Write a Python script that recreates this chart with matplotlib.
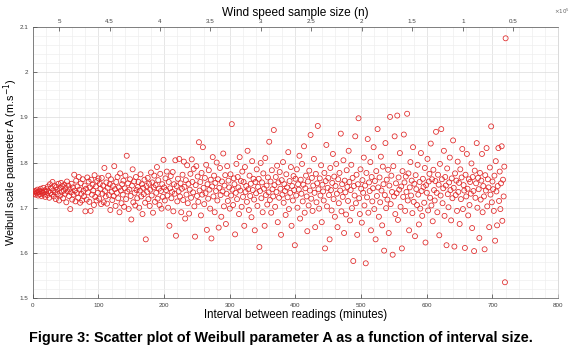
import numpy as np
import matplotlib
matplotlib.use("Agg")
import matplotlib.pyplot as plt
from matplotlib.ticker import MultipleLocator

plt.rcParams['font.family'] = ['Liberation Sans', 'DejaVu Sans']

# intervalo entre leituras (minutos): 1..720
interval = np.arange(1, 721)

# parametro A de Weibull, em blocos de 100 minutos
a_001_100 = [
    1.734, 1.731, 1.737, 1.729, 1.736, 1.733, 1.740, 1.727, 1.735, 1.738,
    1.730, 1.742, 1.726, 1.736, 1.733, 1.744, 1.729, 1.738, 1.724, 1.735,
    1.741, 1.728, 1.747, 1.736, 1.722, 1.752, 1.733, 1.744, 1.729, 1.757,
    1.738, 1.725, 1.749, 1.734, 1.719, 1.746, 1.740, 1.730, 1.753, 1.716,
    1.743, 1.727, 1.755, 1.735, 1.748, 1.721, 1.738, 1.751, 1.731, 1.744,
    1.712, 1.758, 1.736, 1.749, 1.726, 1.741, 1.697, 1.734, 1.753, 1.718,
    1.745, 1.729, 1.773, 1.738, 1.714, 1.760, 1.733, 1.747, 1.722, 1.768,
    1.740, 1.711, 1.754, 1.731, 1.716, 1.763, 1.737, 1.725, 1.749, 1.692,
    1.742, 1.718, 1.767, 1.734, 1.758, 1.713, 1.745, 1.693, 1.762, 1.729,
    1.751, 1.738, 1.706, 1.772, 1.724, 1.747, 1.716, 1.759, 1.733, 1.765,
]
a_101_200 = [
    1.720, 1.753, 1.742, 1.708, 1.766, 1.731, 1.749, 1.712, 1.788, 1.737,
    1.725, 1.756, 1.709, 1.744, 1.771, 1.728, 1.752, 1.695, 1.763, 1.735,
    1.717, 1.748, 1.726, 1.792, 1.741, 1.704, 1.757, 1.733, 1.768, 1.721,
    1.745, 1.690, 1.776, 1.738, 1.710, 1.752, 1.729, 1.760, 1.702, 1.743,
    1.771, 1.719, 1.815, 1.736, 1.754, 1.697, 1.740, 1.763, 1.726, 1.674,
    1.749, 1.785, 1.712, 1.758, 1.733, 1.705, 1.768, 1.739, 1.721, 1.746,
    1.757, 1.700, 1.738, 1.774, 1.725, 1.752, 1.686, 1.744, 1.730, 1.762,
    1.711, 1.630, 1.748, 1.735, 1.766, 1.719, 1.753, 1.704, 1.740, 1.778,
    1.727, 1.756, 1.689, 1.745, 1.771, 1.713, 1.750, 1.733, 1.790, 1.720,
    1.761, 1.742, 1.706, 1.775, 1.737, 1.698, 1.752, 1.724, 1.806, 1.745,
]
a_201_300 = [
    1.716, 1.765, 1.739, 1.780, 1.727, 1.700, 1.757, 1.660, 1.743, 1.770,
    1.721, 1.735, 1.779, 1.692, 1.752, 1.731, 1.805, 1.638, 1.748, 1.714,
    1.764, 1.736, 1.808, 1.725, 1.754, 1.690, 1.742, 1.773, 1.717, 1.802,
    1.746, 1.676, 1.761, 1.729, 1.794, 1.710, 1.753, 1.687, 1.740, 1.775,
    1.722, 1.807, 1.757, 1.734, 1.786, 1.703, 1.636, 1.750, 1.792, 1.726,
    1.769, 1.713, 1.845, 1.738, 1.757, 1.683, 1.777, 1.729, 1.834, 1.744,
    1.708, 1.766, 1.732, 1.795, 1.651, 1.752, 1.720, 1.783, 1.740, 1.698,
    1.762, 1.632, 1.747, 1.812, 1.725, 1.771, 1.690, 1.755, 1.737, 1.800,
    1.716, 1.763, 1.656, 1.744, 1.788, 1.728, 1.680, 1.758, 1.736, 1.820,
    1.703, 1.749, 1.772, 1.664, 1.731, 1.792, 1.715, 1.760, 1.745, 1.698,
]
a_301_400 = [
    1.774, 1.727, 1.885, 1.740, 1.706, 1.765, 1.752, 1.641, 1.733, 1.797,
    1.719, 1.768, 1.745, 1.686, 1.812, 1.738, 1.759, 1.702, 1.780, 1.724,
    1.757, 1.660, 1.790, 1.735, 1.748, 1.713, 1.826, 1.741, 1.695, 1.771,
    1.726, 1.753, 1.679, 1.803, 1.739, 1.764, 1.718, 1.650, 1.757, 1.732,
    1.785, 1.704, 1.746, 1.764, 1.613, 1.737, 1.799, 1.721, 1.756, 1.690,
    1.776, 1.742, 1.660, 1.810, 1.728, 1.749, 1.707, 1.767, 1.734, 1.846,
    1.717, 1.758, 1.689, 1.783, 1.741, 1.725, 1.872, 1.750, 1.702, 1.768,
    1.735, 1.793, 1.668, 1.756, 1.722, 1.779, 1.742, 1.640, 1.761, 1.729,
    1.801, 1.711, 1.752, 1.737, 1.684, 1.774, 1.745, 1.723, 1.823, 1.697,
    1.759, 1.733, 1.790, 1.660, 1.748, 1.716, 1.770, 1.739, 1.617, 1.764,
]
a_401_500 = [
    1.727, 1.785, 1.700, 1.752, 1.740, 1.815, 1.676, 1.762, 1.731, 1.797,
    1.714, 1.751, 1.836, 1.689, 1.743, 1.771, 1.725, 1.648, 1.758, 1.705,
    1.782, 1.738, 1.861, 1.720, 1.766, 1.693, 1.749, 1.808, 1.733, 1.657,
    1.775, 1.712, 1.754, 1.881, 1.741, 1.698, 1.765, 1.727, 1.794, 1.668,
    1.751, 1.736, 1.716, 1.777, 1.610, 1.759, 1.839, 1.703, 1.744, 1.766,
    1.728, 1.630, 1.788, 1.739, 1.694, 1.755, 1.819, 1.719, 1.769, 1.680,
    1.748, 1.797, 1.731, 1.657, 1.763, 1.710, 1.777, 1.738, 1.864, 1.692,
    1.752, 1.724, 1.805, 1.644, 1.760, 1.734, 1.685, 1.783, 1.746, 1.715,
    1.826, 1.757, 1.672, 1.739, 1.795, 1.699, 1.766, 1.582, 1.748, 1.727,
    1.858, 1.710, 1.773, 1.640, 1.752, 1.898, 1.721, 1.686, 1.785, 1.742,
]
a_501_600 = [
    1.667, 1.761, 1.733, 1.811, 1.705, 1.749, 1.577, 1.777, 1.723, 1.852,
    1.689, 1.756, 1.737, 1.801, 1.650, 1.768, 1.714, 1.743, 1.834, 1.697,
    1.759, 1.630, 1.781, 1.726, 1.874, 1.745, 1.680, 1.767, 1.712, 1.813,
    1.738, 1.661, 1.791, 1.752, 1.605, 1.728, 1.843, 1.699, 1.762, 1.718,
    1.784, 1.644, 1.749, 1.901, 1.708, 1.771, 1.735, 1.596, 1.792, 1.725,
    1.858, 1.686, 1.754, 1.732, 1.904, 1.673, 1.767, 1.740, 1.821, 1.702,
    1.747, 1.610, 1.781, 1.724, 1.862, 1.756, 1.693, 1.769, 1.735, 1.908,
    1.716, 1.776, 1.650, 1.745, 1.801, 1.727, 1.760, 1.688, 1.834, 1.713,
    1.753, 1.637, 1.772, 1.741, 1.706, 1.795, 1.729, 1.663, 1.757, 1.698,
    1.821, 1.737, 1.682, 1.764, 1.746, 1.711, 1.788, 1.623, 1.750, 1.733,
]
a_601_720 = [
    1.808, 1.694, 1.758, 1.775, 1.722, 1.842, 1.705, 1.763, 1.670, 1.784,
    1.739, 1.716, 1.759, 1.868, 1.733, 1.690, 1.773, 1.751, 1.639, 1.797,
    1.727, 1.874, 1.763, 1.710, 1.743, 1.826, 1.682, 1.768, 1.749, 1.617,
    1.787, 1.730, 1.701, 1.756, 1.811, 1.739, 1.672, 1.765, 1.721, 1.849,
    1.744, 1.614, 1.776, 1.728, 1.760, 1.693, 1.802, 1.735, 1.755, 1.664,
    1.785, 1.719, 1.767, 1.830, 1.697, 1.750, 1.738, 1.611, 1.773, 1.725,
    1.819, 1.742, 1.683, 1.763, 1.706, 1.757, 1.731, 1.798, 1.655, 1.768,
    1.737, 1.604, 1.782, 1.722, 1.754, 1.843, 1.700, 1.766, 1.741, 1.633,
    1.777, 1.718, 1.760, 1.819, 1.690, 1.748, 1.725, 1.608, 1.772, 1.738,
    1.832, 1.703, 1.763, 1.745, 1.657, 1.789, 1.729, 1.880, 1.712, 1.758,
    1.741, 1.693, 1.771, 1.627, 1.803, 1.736, 1.661, 1.748, 1.832, 1.715,
    1.780, 1.697, 1.754, 1.836, 1.671, 1.762, 1.725, 1.791, 1.535, 2.075,
]
weibull_a = np.array(a_001_100 + a_101_200 + a_201_300 + a_301_400
                     + a_401_500 + a_501_600 + a_601_720)

# eixos
x_ticks = [0, 100, 200, 300, 400, 500, 600, 700, 800]
y_ticks = [1.5, 1.6, 1.7, 1.8, 1.9, 2.0, 2.1]
y_labels = ['1.5', '1.6', '1.7', '1.8', '1.9', '2', '2.1']

# eixo de cima: tamanho da amostra (x10^5)
sample_ticks = [5, 4.5, 4, 3.5, 3, 2.5, 2, 1.5, 1, 0.5]
sample_labels = ['5', '4.5', '4', '3.5', '3', '2.5', '2', '1.5', '1', '0.5']

fig = plt.figure(figsize=(5.76, 3.6), dpi=100)
ax = fig.add_axes([0.057, 0.172, 0.912, 0.753])

ax.scatter(interval, weibull_a, s=13, facecolors='none', edgecolors='#e02525',
           linewidths=0.55, zorder=3)

ax.set_xlim(0, 800)
ax.set_ylim(1.5, 2.1)
ax.set_xticks(x_ticks)
ax.set_yticks(y_ticks, y_labels)
ax.xaxis.set_minor_locator(MultipleLocator(20))
ax.yaxis.set_minor_locator(MultipleLocator(0.02))
ax.grid(which='major', color='#dcdcdc', linewidth=0.5)
ax.grid(which='minor', color='#eeeeee', linewidth=0.5)
ax.set_axisbelow(True)
ax.tick_params(which='major', direction='in', length=3, width=0.5,
               labelsize=4.5, labelcolor='#404040', color='#404040', top=False)
ax.tick_params(which='minor', length=0)
for s in ax.spines.values():
    s.set_color('#555555')
    s.set_linewidth(0.5)
ax.spines['right'].set_color('#cccccc')
ax.set_xlabel('Interval between readings (minutes)', fontsize=8.3, labelpad=1)
ax.set_ylabel('Weibull scale parameter A (m.s$^{-1}$)', fontsize=7.8)
ax.yaxis.set_label_coords(-0.024, 0.5)

ax2 = ax.twiny()
ax2.set_xlim(5.26, 0.055)
ax2.set_xticks(sample_ticks, sample_labels)
ax2.tick_params(direction='in', length=3, width=0.5, labelsize=4.5,
                labelcolor='#404040', color='#404040', pad=2)
for s in ax2.spines.values():
    s.set_visible(False)
ax2.set_xlabel('Wind speed sample size (n)', fontsize=8.6, labelpad=2)
fig.text(0.962, 0.968, r'$\times10^5$', fontsize=4, color='#606060', ha='left', va='center')

fig.text(0.05, 0.062, 'Figure 3: Scatter plot of Weibull parameter A as a function of interval size.',
         fontsize=10.4, fontweight='bold', ha='left', va='center')

fig.savefig('out.png', dpi=100)
